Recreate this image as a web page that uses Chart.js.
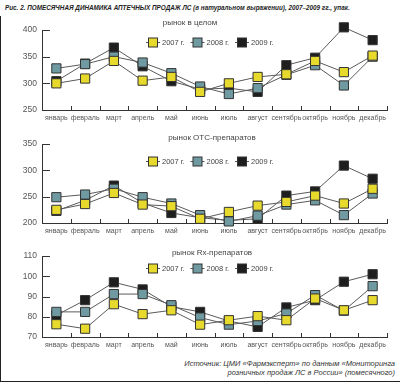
<!DOCTYPE html>
<html>
<head>
<meta charset="utf-8">
<script src="https://cdn.jsdelivr.net/npm/chart.js@4.4.1/dist/chart.umd.min.js"></script>
<style>
  body { margin: 0; background: #fff; }
  #wrap { position: relative; width: 400px; height: 384px; overflow: hidden; font-family: "Liberation Sans", Arial, sans-serif; }
  #caption { position: absolute; left: 5px; top: 3px; font-size: 8px; font-weight: bold; font-style: italic; color: #222; white-space: nowrap; transform-origin: 0 0; }
  #frame { position: absolute; left: 0; top: 16px; width: 400px; height: 365px; border-left: 1.5px solid #222; border-bottom: 1.5px solid #222; }
  canvas { position: absolute; left: 0; }
  #source { position: absolute; right: 5px; top: 359px; font-size: 7.5px; line-height: 9px; font-style: italic; color: #333; text-align: right; }
</style>
</head>
<body>
<div id="wrap">
  <div id="frame"></div>
  <div id="caption">Рис. 2. ПОМЕСЯЧНАЯ ДИНАМИКА АПТЕЧНЫХ ПРОДАЖ ЛС (в натуральном выражении), 2007–2009 гг., упак.</div>
  <canvas id="c1" width="400" height="112" style="top:16px"></canvas>
  <canvas id="c2" width="400" height="113" style="top:128px"></canvas>
  <canvas id="c3" width="400" height="114" style="top:241px"></canvas>
  <div id="source">Источник: ЦМИ «Фармэксперт» по данным «Мониторинга<br>розничных продаж ЛС в России» (помесячного)</div>
</div>
<script>
var months = ['январь', 'февраль', 'март', 'апрель', 'май', 'июнь', 'июль', 'август', 'сентябрь', 'октябрь', 'ноябрь', 'декабрь'];
var years = ['2007 г.', '2008 г.', '2009 г.'];

// рынок в целом
var total2007 = [300, 309, 342, 305, 312, 284, 300, 312, 317, 342, 321, 352];
var total2008 = [328, 336, 350, 339, 319, 294, 280, 291, 316, 334, 296, 350];
var total2009 = [304, 337, 367, 332, 304, 289, 291, 284, 334, 348, 405, 381];

// рынок ОТС-препаратов
var otc2007 = [225, 236, 257, 235, 232, 208, 221, 233, 240, 252, 237, 265];
var otc2008 = [249, 254, 265, 249, 237, 215, 203, 214, 235, 243, 215, 256];
var otc2009 = [223, 243, 271, 238, 219, 210, 205, 208, 252, 260, 309, 284];

// рынок Rx-препаратов
var rx2007 = [76.3, 74.1, 86.2, 81.3, 83.2, 76.1, 78.3, 80.3, 78.3, 89, 83.2, 88.2];
var rx2008 = [82.4, 82.4, 91.2, 91.2, 85.7, 79.6, 76.1, 77.9, 81.6, 90.7, 83, 95.1];
var rx2009 = [80.8, 88.2, 97, 93.5, 85, 82.4, 77.9, 75, 84.6, 88.2, 97.3, 101];

var fills = ['#e8da2c', '#6f9aa1', '#1e1e1e'];

(function(window){
    var Chart = window.Chart;
    var font = '"Liberation Sans", Arial, sans-serif';

    // title, legend and the inward ticks of the axes
    var decor = {
        id: 'decor',
        afterDraw: function(chart, args, opts) {
            var ctx = chart.ctx;
            var x = chart.scales.x;
            var y = chart.scales.y;
            var area = chart.chartArea;
            ctx.save();
            ctx.strokeStyle = '#333';
            ctx.lineWidth = 1;
            y.ticks.forEach(function(t){
                var py = Math.round(y.getPixelForValue(t.value)) + .5;
                ctx.beginPath();
                ctx.moveTo(area.left, py);
                ctx.lineTo(area.left + 8, py);
                ctx.stroke();
            });
            for (var i = 0; i <= months.length; i++) {
                var px = Math.round(x.getPixelForValue(i - .5)) + .5;
                ctx.beginPath();
                ctx.moveTo(px, area.bottom);
                ctx.lineTo(px, area.bottom - 4);
                ctx.stroke();
            }

            ctx.fillStyle = '#444';
            ctx.font = '8px ' + font;
            ctx.textAlign = 'center';
            ctx.textBaseline = 'middle';
            ctx.fillText(opts.title, opts.titleX, opts.titleY);

            ctx.textAlign = 'left';
            ctx.font = '7.5px ' + font;
            chart.data.datasets.forEach(function(ds, k){
                var lx = opts.legendX + k * 44.5;
                var ly = opts.legendY;
                ctx.strokeStyle = '#555';
                ctx.beginPath();
                ctx.moveTo(lx, ly + .5);
                ctx.lineTo(lx + 14, ly + .5);
                ctx.stroke();
                ctx.fillStyle = ds.backgroundColor;
                ctx.strokeStyle = '#333';
                ctx.fillRect(lx + 2.5, ly - 4, 9, 9);
                ctx.strokeRect(lx + 2.5, ly - 4, 9, 9);
                ctx.fillStyle = '#444';
                ctx.fillText(ds.label, lx + 16, ly + 1);
            });
            ctx.restore();
        }
    };

    function series(label, data, color) {
        return {
            label: label,
            data: data,
            borderColor: '#5a5a5a',
            borderWidth: 1,
            backgroundColor: color,
            pointBackgroundColor: color,
            pointBorderColor: '#333',
            pointBorderWidth: 1,
            pointStyle: 'rect',
            pointRadius: 6.5,
            tension: 0,
            clip: false
        };
    }

    function panel(element, rows, min, max, step, top, deco) {
        return new Chart(element.getContext('2d'), {
            type: 'line',
            data: {
                labels: months,
                datasets: [
                    series(years[0], rows[0], fills[0]),
                    series(years[1], rows[1], fills[1]),
                    series(years[2], rows[2], fills[2])
                ]
            },
            options: {
                responsive: false,
                animation: false,
                layout: { padding: { top: top, right: 13, left: 0, bottom: 0 } },
                scales: {
                    x: {
                        offset: true,
                        grid: { drawOnChartArea: false, drawTicks: false },
                        border: { color: '#333', width: 1 },
                        ticks: { color: '#555', font: { size: 7, family: font }, padding: 4, maxRotation: 0, autoSkip: false },
                        afterFit: function(scale){ scale.height = 18; }
                    },
                    y: {
                        min: min,
                        max: max,
                        grid: { drawOnChartArea: false, drawTicks: false },
                        border: { color: '#333', width: 1 },
                        ticks: { stepSize: step, color: '#555', font: { size: 8.5, family: font }, padding: 5 },
                        afterFit: function(scale){ scale.width = 42; }
                    }
                },
                plugins: {
                    legend: { display: false },
                    tooltip: { enabled: false },
                    decor: deco
                }
            },
            plugins: [decor]
        });
    }

    panel(document.getElementById('c1'), [total2007, total2008, total2009], 250, 400, 50, 14,
        { title: 'рынок в целом', titleX: 190, titleY: 7, legendX: 146, legendY: 26 });
    panel(document.getElementById('c2'), [otc2007, otc2008, otc2009], 200, 350, 50, 16,
        { title: 'рынок ОТС-препаратов', titleX: 212, titleY: 10, legendX: 146, legendY: 33 });
    panel(document.getElementById('c3'), [rx2007, rx2008, rx2009], 70, 110, 10, 15,
        { title: 'рынок Rx-препаратов', titleX: 212, titleY: 12, legendX: 146, legendY: 27 });

    var cap = document.getElementById('caption');
    cap.style.transform = 'scaleX(' + (345 / cap.offsetWidth) + ')';
})(window);
</script>
</body>
</html>
